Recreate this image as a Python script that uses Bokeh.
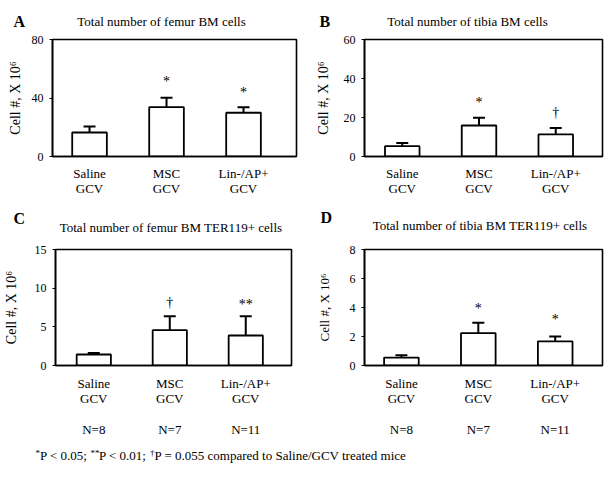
from bokeh.plotting import figure
from bokeh.models import (ColumnDataSource, Whisker, TeeHead, Range1d,
                          FixedTicker)
from bokeh.layouts import column, row
from bokeh.core.properties import value
from bokeh.embed import file_html
from bokeh.resources import INLINE

FONT = "Liberation Serif"

# ---------------- data ----------------
groups = ["Saline\nGCV", "MSC\nGCV", "Lin-/AP+\nGCV"]
n_counts = ["N=8", "N=7", "N=11"]
xpos = [1, 2, 3]

femur_mean = [16.4, 33.7, 29.9]
femur_upper = [20.5, 40.1, 33.7]
femur_lower = [5.7, 25.8, 18.9]
femur_marks = ["", "*", "*"]
femur_mark_y = [0, 51, 44]

tibia_mean = [5.3, 15.9, 11.3]
tibia_upper = [6.9, 19.9, 14.6]
tibia_lower = [3.1, 9.1, 9.6]
tibia_marks = ["", "*", "\u2020"]
tibia_mark_y = [0, 27.9, 22.8]

femur_ter_mean = [1.42, 4.57, 3.88]
femur_ter_upper = [1.63, 6.38, 6.38]
femur_ter_lower = [1.07, 3.71, 3.7]
femur_ter_marks = ["", "\u2020", "**"]
femur_ter_mark_y = [0, 8.2, 7.9]

tibia_ter_mean = [0.55, 2.23, 1.66]
tibia_ter_upper = [0.71, 2.94, 2.0]
tibia_ter_lower = [0.2, 1.5, 1.34]
tibia_ter_marks = ["", "*", "*"]
tibia_ter_mark_y = [0, 3.94, 3.15]

titles = ["Total number of femur BM cells",
          "Total number of tibia BM cells",
          "Total number of femur BM TER119+ cells",
          "Total number of tibia BM TER119+ cells"]
letters = ["A", "B", "C", "D"]
y_ticks = [[0, 40, 80], [0, 20, 40, 60], [0, 5, 10, 15], [0, 2, 4, 6, 8]]
y_label = "Cell #, X 10\u2076"

footnote_main = ["P < 0.05;", "P < 0.01;",
                 "P = 0.055 compared to Saline/GCV treated mice"]
footnote_sup = ["*", "**", "\u2020"]

TOTAL_W = 606


def blank(height):
    f = figure(width=TOTAL_W, height=height, x_range=Range1d(0, TOTAL_W),
               y_range=Range1d(0, height), toolbar_location=None,
               output_backend="svg", min_border=0)
    f.axis.visible = False
    f.grid.visible = False
    f.outline_line_color = None
    return f


def header(height, letter_txt, letter_x, letter_y, title_txt, title_x,
           title_y):
    h = blank(height)
    h.text(x=letter_x, y=letter_y, text=letter_txt, text_align="left",
           text_baseline="middle", text_font=value(FONT),
           text_font_style="bold", text_font_size="16px", text_color="black")
    h.text(x=title_x, y=title_y, text=title_txt, text_align="center",
           text_baseline="middle", text_font=value(FONT),
           text_font_size="13px", text_color="black")
    return h


def panel(mean, upper, lower, marks, mark_y, yt, xr, size, borders,
          lab_standoff, ylab_size, with_n, xlab_standoff):
    w, h = size
    bl, br, bt, bb = borders
    p = figure(width=w, height=h, x_range=Range1d(*xr),
               y_range=Range1d(yt[0], yt[-1]), toolbar_location=None,
               output_backend="svg", min_border_left=bl, min_border_right=br,
               min_border_top=bt, min_border_bottom=bb)
    p.grid.visible = False
    p.outline_line_color = "black"
    p.outline_line_width = 1.6

    src = ColumnDataSource(dict(x=xpos, top=mean, upper=upper, lower=lower))
    p.vbar(x="x", top="top", width=0.45, bottom=0, source=src,
           fill_color="white", line_color="black", line_width=1.8)
    wk = Whisker(source=src, base="x", upper="upper", lower="lower",
                 dimension="height", line_color="black", line_width=2,
                 upper_head=TeeHead(size=12, line_color="black",
                                    line_width=2),
                 lower_head=None)
    p.add_layout(wk)

    mk = ColumnDataSource(dict(x=xpos, y=mark_y, t=marks))
    p.text(x="x", y="y", text="t", source=mk, text_align="center",
           text_baseline="middle", text_font=value(FONT),
           text_font_size="14px", text_color="black")

    ya = p.yaxis[0]
    ya.ticker = FixedTicker(ticks=yt)
    ya.minor_tick_line_color = None
    ya.major_tick_out = 3
    ya.major_tick_in = 0
    ya.major_label_standoff = 6
    ya.major_label_text_font = FONT
    ya.major_label_text_font_size = "12px"
    ya.major_label_text_color = "black"
    ya.axis_line_color = "black"
    ya.axis_line_width = 1.6
    ya.axis_label = y_label
    ya.axis_label_text_font = FONT
    ya.axis_label_text_font_style = "normal"
    ya.axis_label_text_font_size = ylab_size
    ya.axis_label_text_color = "black"
    ya.axis_label_standoff = lab_standoff

    xa = p.xaxis[0]
    xa.ticker = FixedTicker(ticks=xpos)
    if with_n:
        xa.major_label_overrides = {x: g + "\n \n" + n
                                    for x, g, n in zip(xpos, groups, n_counts)}
    else:
        xa.major_label_overrides = {x: g for x, g in zip(xpos, groups)}
    xa.minor_tick_line_color = None
    xa.major_tick_line_color = None
    xa.major_tick_out = 0
    xa.major_tick_in = 0
    xa.major_label_standoff = xlab_standoff
    xa.major_label_text_font = FONT
    xa.major_label_text_font_size = "13px"
    xa.major_label_text_line_height = 1.04
    xa.major_label_text_color = "black"
    xa.axis_line_color = "black"
    xa.axis_line_width = 1.6
    return p


hdr1 = header(31, [letters[0], letters[1]], [13, 319], [10, 10],
              [titles[0], titles[1]], [161, 467], [10.3, 10.3])
pA = panel(femur_mean, femur_upper, femur_lower, femur_marks, femur_mark_y,
           y_ticks[0], (0.519, 3.688), (310, 174), (52, 14, 8, 49),
           6, "14px", False, 9)
pB = panel(tibia_mean, tibia_upper, tibia_lower, tibia_marks, tibia_mark_y,
           y_ticks[1], (0.508, 3.609), (296, 174), (54, 4, 8, 49),
           10, "14px", False, 9)

hdr2 = header(35, [letters[2], letters[3]], [13, 320], [22, 23],
              [titles[2], titles[3]], [170.5, 479.5], [13.3, 15])
pC = panel(femur_ter_mean, femur_ter_upper, femur_ter_lower, femur_ter_marks,
           femur_ter_mark_y, y_ticks[2], (0.496, 3.602), (310, 200),
           (53, 19, 9, 75), 13, "14px", True, 10)
pD = panel(tibia_ter_mean, tibia_ter_upper, tibia_ter_lower, tibia_ter_marks,
           tibia_ter_mark_y, y_ticks[3], (0.52, 3.615), (296, 200),
           (54, 4, 8, 75), 15, "13px", True, 10)

pF = blank(34)
pF.text(x=[39.5, 98.5, 154], y=[19, 19, 19], text=footnote_main,
        text_align="left", text_baseline="middle", text_font=value(FONT),
        text_font_size="13px", text_color="black")
pF.text(x=[35, 90, 149.5], y=[22, 22, 22], text=footnote_sup,
        text_align="left", text_baseline="middle", text_font=value(FONT),
        text_font_size="9px", text_color="black")

layout = column(hdr1, row(pA, pB), hdr2, row(pC, pD), pF)
open("out.html", "w").write(file_html(layout, INLINE))
